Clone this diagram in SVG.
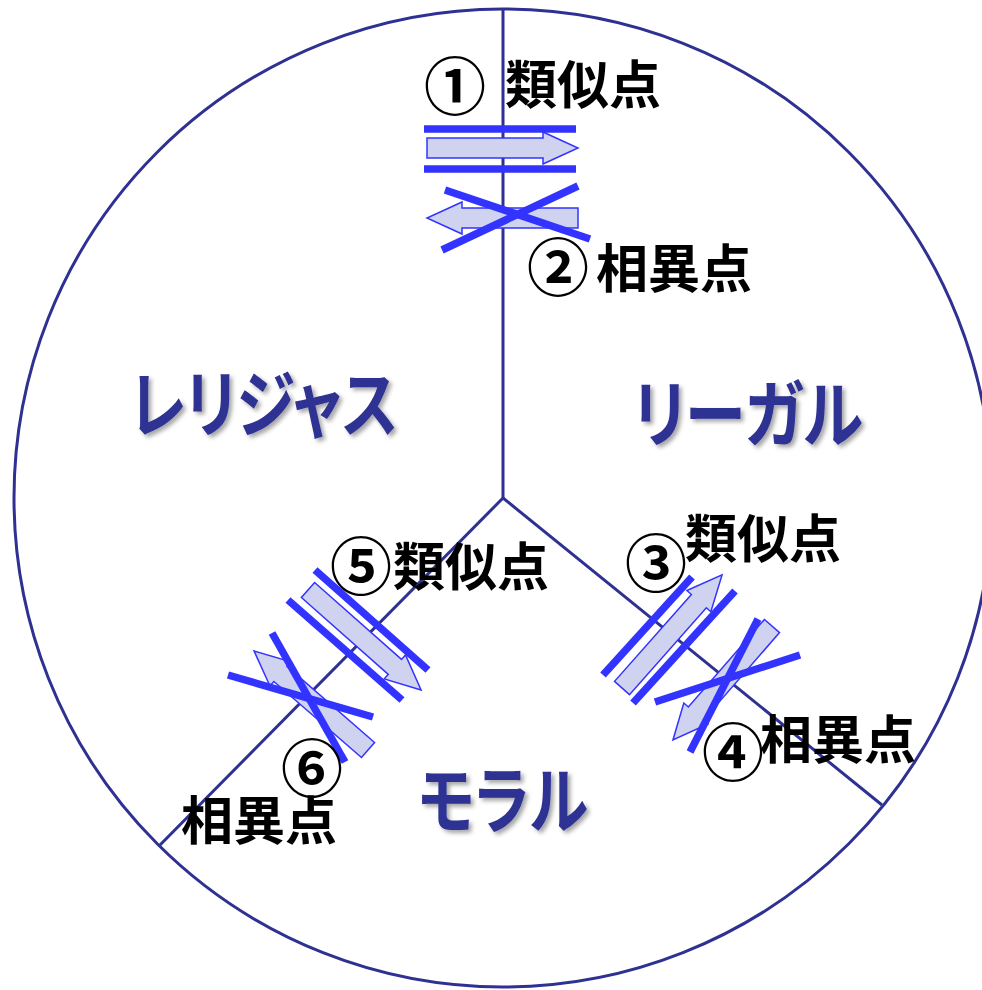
<svg xmlns="http://www.w3.org/2000/svg" width="982" height="990" viewBox="0 0 982 990">
<defs>
<style>
.frame{fill:none;stroke:#2E3192;stroke-width:3}
.arrow{fill:#D0D3F0;stroke:#3333FF;stroke-width:1.5;stroke-linejoin:miter}
.bar{stroke:#3333FF;stroke-width:7.5;fill:none}
.lbl{font-family:"Noto Sans CJK JP","Noto Sans CJK SC",sans-serif;font-weight:bold;font-size:52px;fill:#000}
.num{font-family:"Noto Sans CJK JP","Noto Sans CJK SC",sans-serif;font-weight:bold;font-size:62px;fill:#000;text-anchor:middle}
.big{font-family:"Noto Sans CJK JP","Noto Sans CJK SC",sans-serif;font-weight:bold;font-size:73px;fill:#2E3192;font-feature-settings:"palt";filter:url(#sh)}
</style>
<filter id="sh" x="-10%" y="-20%" width="120%" height="150%">
<feDropShadow dx="3" dy="3" stdDeviation="2" flood-color="#000" flood-opacity="0.35"/>
</filter>
<path id="arr" d="M0,-10 L116,-10 L116,-16 L151,0 L116,16 L116,10 L0,10 Z"/>
</defs>
<rect width="982" height="990" fill="#fff"/>
<g id="connectors">
<circle class="frame" cx="503" cy="498" r="489"/>
<line class="frame" x1="503" y1="9" x2="503" y2="498"/>
<line class="frame" x1="503" y1="498" x2="160" y2="845"/>
<line class="frame" x1="503" y1="498" x2="882" y2="805"/>
</g>
<g id="node-religious">
<text class="big" x="130" y="431" textLength="268" lengthAdjust="spacingAndGlyphs">レリジャス</text>
</g>
<g id="node-legal">
<text class="big" x="633" y="441" textLength="230" lengthAdjust="spacingAndGlyphs">リーガル</text>
</g>
<g id="node-moral">
<text class="big" x="418" y="827" textLength="170" lengthAdjust="spacingAndGlyphs">モラル</text>
</g>
<g id="node-1">
<use href="#arr" class="arrow" transform="translate(427,148)"/>
<line class="bar" x1="424" y1="129" x2="576" y2="129"/>
<line class="bar" x1="424" y1="169" x2="576" y2="169"/>
<text class="num" x="455" y="110">①</text>
<text class="lbl" x="505" y="104">類似点</text>
</g>
<g id="node-2">
<use href="#arr" class="arrow" transform="translate(578,218) rotate(180)"/>
<line class="bar" x1="445" y1="190" x2="590" y2="239"/>
<line class="bar" x1="442" y1="250" x2="578" y2="186"/>
<text class="num" x="558" y="291">②</text>
<text class="lbl" x="596" y="288">相異点</text>
</g>
<g id="node-3">
<use href="#arr" class="arrow" transform="translate(622,688) rotate(-48.5)"/>
<line class="bar" x1="603" y1="675" x2="692" y2="577"/>
<line class="bar" x1="633" y1="703" x2="735" y2="591"/>
<text class="num" x="656" y="587">③</text>
<text class="lbl" x="685" y="558">類似点</text>
</g>
<g id="node-4">
<use href="#arr" class="arrow" transform="translate(772,626) rotate(131)"/>
<line class="bar" x1="655" y1="702" x2="800" y2="655"/>
<line class="bar" x1="690" y1="752" x2="758" y2="619"/>
<text class="num" x="733" y="776">④</text>
<text class="lbl" x="760" y="759">相異点</text>
</g>
<g id="node-5">
<use href="#arr" class="arrow" transform="translate(308,590) rotate(41.5)"/>
<line class="bar" x1="315" y1="570" x2="428" y2="670"/>
<line class="bar" x1="288" y1="600" x2="402" y2="700"/>
<text class="num" x="361" y="590">⑤</text>
<text class="lbl" x="393" y="586">類似点</text>
</g>
<g id="node-6">
<use href="#arr" class="arrow" transform="translate(368,750) rotate(-139)"/>
<line class="bar" x1="228" y1="675" x2="373" y2="717"/>
<line class="bar" x1="272" y1="633" x2="345" y2="762"/>
<text class="num" x="312" y="792">⑥</text>
<text class="lbl" x="181" y="840">相異点</text>
</g>
</svg>
